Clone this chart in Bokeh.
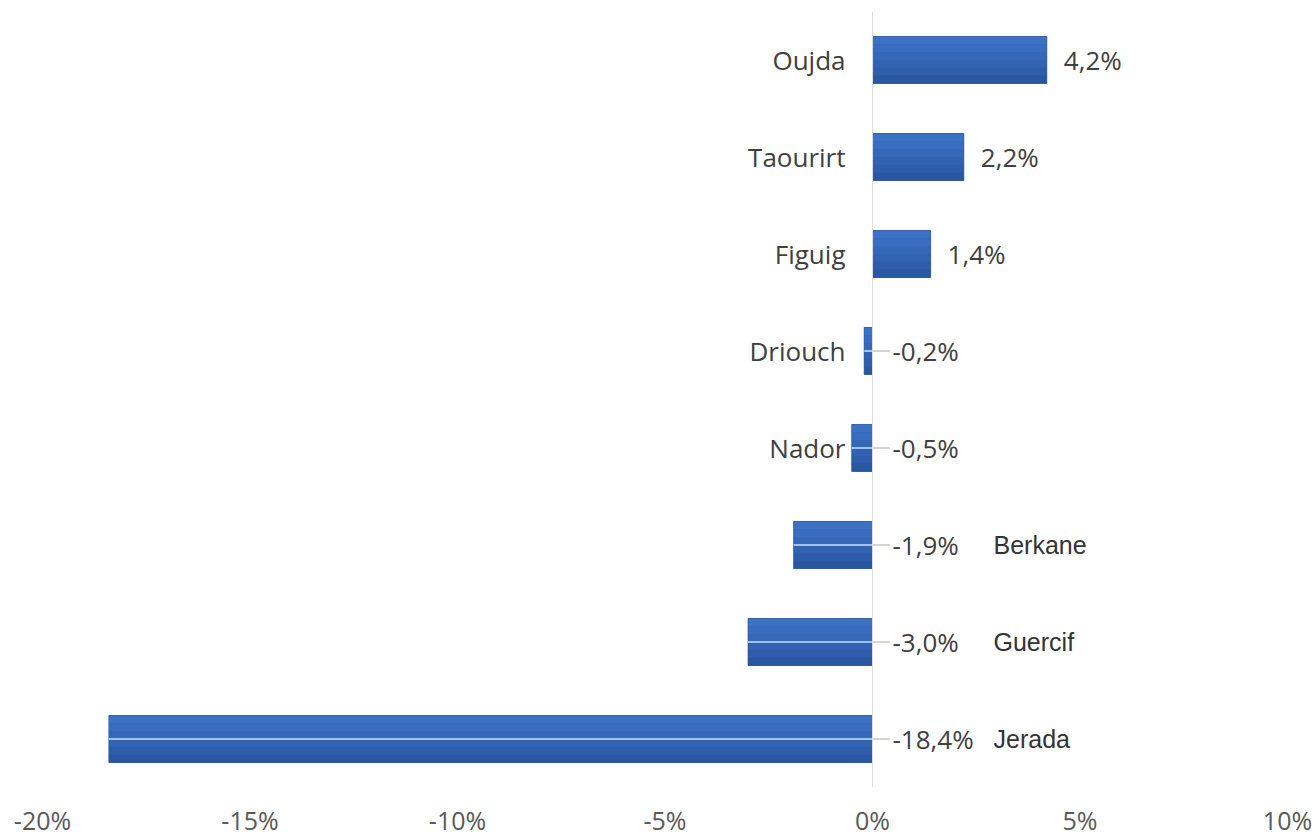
from bokeh.plotting import figure
from bokeh.models import FactorRange, FixedTicker, PrintfTickFormatter, Span, ColumnDataSource
from bokeh.transform import dodge
from bokeh.core.properties import value
from bokeh.embed import file_html
from bokeh.resources import INLINE

# ---- data ----
provinces = ["Oujda", "Taourirt", "Figuig", "Driouch", "Nador", "Berkane", "Guercif", "Jerada"]
change_pct = [4.2, 2.2, 1.4, -0.2, -0.5, -1.9, -3.0, -18.4]
label_side = ["left", "left", "left", "left", "left", "right", "right", "right"]
x_ticks = [-20, -15, -10, -5, 0, 5, 10]

value_text = [f"{v:.1f}".replace(".", ",") + "%" for v in change_pct]

p = figure(
    y_range=FactorRange(factors=list(reversed(provinces))),
    x_range=(-20, 10),
    frame_width=1245, frame_height=776,
    min_border_left=42, min_border_right=28, min_border_top=11, min_border_bottom=0,
    output_backend="svg", toolbar_location=None,
)
p.outline_line_color = None
p.background_fill_color = "white"
p.border_fill_color = "white"
p.ygrid.grid_line_color = None
p.xgrid.grid_line_color = None
p.yaxis.visible = False

ax = p.xaxis[0]
ax.ticker = FixedTicker(ticks=x_ticks)
ax.formatter = PrintfTickFormatter(format="%d%%")
ax.axis_line_color = None
ax.major_tick_line_color = None
ax.minor_tick_line_color = None
ax.major_label_standoff = 9
ax.major_label_text_font = "Open Sans"
ax.major_label_text_font_size = "25px"
ax.major_label_text_color = "#595959"

p.add_layout(Span(location=0, dimension="height", line_color="#dcdcdc", line_width=1))

src = ColumnDataSource(dict(cat=provinces, val=change_pct))

# bars with a soft vertical gradient (light top -> dark bottom)
BAR_H = 0.485
band_colors = ["#3b72c4", "#386dbf", "#3568b9", "#3263b3", "#2e5dab", "#2a57a2"]
n = len(band_colors)
bh = BAR_H / n
p.hbar(y="cat", left=0, right="val", height=BAR_H, source=src,
       fill_color="#3163b2", line_color=None)
for k, c in enumerate(band_colors):
    off = BAR_H / 2 - bh * (k + 0.5)
    p.hbar(y=dodge("cat", off, range=p.y_range), left=0, right="val", height=bh * 1.04,
           source=src, fill_color=c, line_color=None)
p.hbar(y="cat", left=0, right="val", height=BAR_H, source=src,
       fill_color=None, line_color="#2b5596", line_width=1, line_alpha=0.7)

# negatives: leader lines
neg_idx = [i for i, v in enumerate(change_pct) if v < 0]
neg = ColumnDataSource(dict(cat=[provinces[i] for i in neg_idx],
                            val=[change_pct[i] for i in neg_idx],
                            zero=[0] * len(neg_idx),
                            gap=[0.42] * len(neg_idx)))
p.segment(x0="val", y0="cat", x1="zero", y1="cat", source=neg,
          line_color="#9ec4f3", line_width=2)
p.segment(x0="zero", y0="cat", x1="gap", y1="cat", source=neg,
          line_color="#a8a8a8", line_width=1)

# value labels
pos_idx = [i for i, v in enumerate(change_pct) if v >= 0]
pos_lab = ColumnDataSource(dict(cat=[provinces[i] for i in pos_idx],
                                val=[change_pct[i] for i in pos_idx],
                                txt=[value_text[i] for i in pos_idx]))
neg_lab = ColumnDataSource(dict(cat=[provinces[i] for i in neg_idx],
                                zero=[0] * len(neg_idx),
                                txt=[value_text[i] for i in neg_idx]))
p.text(x="val", y="cat", text="txt", source=pos_lab, x_offset=17,
       text_align="left", text_baseline="middle",
       text_font=value("Open Sans"), text_font_size="26px", text_color="#404040")
p.text(x="zero", y="cat", text="txt", source=neg_lab, x_offset=20,
       text_align="left", text_baseline="middle",
       text_font=value("Open Sans"), text_font_size="26px", text_color="#404040")

# category labels
left_idx = [i for i, s in enumerate(label_side) if s == "left"]
right_idx = [i for i, s in enumerate(label_side) if s == "right"]
left_src = ColumnDataSource(dict(cat=[provinces[i] for i in left_idx], zero=[0] * len(left_idx)))
right_src = ColumnDataSource(dict(cat=[provinces[i] for i in right_idx], zero=[0] * len(right_idx)))
p.text(x="zero", y="cat", text="cat", source=left_src, x_offset=-27,
       text_align="right", text_baseline="middle",
       text_font=value("Open Sans"), text_font_size="26px", text_color="#404040")
p.text(x="zero", y="cat", text="cat", source=right_src, x_offset=121,
       text_align="left", text_baseline="middle",
       text_font=value("Liberation Sans"), text_font_size="25px", text_color="#333333")

open("out.html", "w").write(file_html(p, INLINE))
